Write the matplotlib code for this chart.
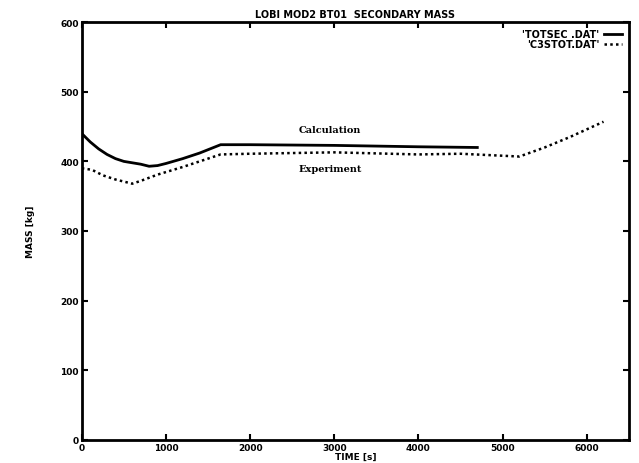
import matplotlib
matplotlib.use("Agg")
import matplotlib.pyplot as plt

# Secondary side mass, calculation vs experiment
calc_t = [0, 100, 200, 300, 400, 500, 600, 700, 800, 900, 1000, 1200, 1400, 1650, 2000, 3000, 4000, 4700]
calc_m = [440, 428, 418, 410, 404, 400, 398, 396, 393, 394, 397, 404, 412, 424, 424, 423, 421, 420]

exp_t = [0, 120, 250, 400, 600, 700, 900, 1200, 1400, 1650, 2000, 3000, 4000, 4500, 5200, 5500, 5800, 6200]
exp_m = [390, 388, 380, 374, 368, 372, 381, 392, 400, 410, 411, 413, 410, 411, 407, 420, 435, 457]

x_ticks = [0, 1000, 2000, 3000, 4000, 5000, 6000]
y_ticks = [0, 100, 200, 300, 400, 500, 600]

fig = plt.figure(figsize=(6.39, 4.64), dpi=100)
ax = fig.add_axes([0.128, 0.05, 0.856, 0.90])

ax.plot(calc_t, calc_m, color="black", lw=2.0, label="'TOTSEC .DAT'")
ax.plot(exp_t, exp_m, color="black", lw=1.8, linestyle=(0, (1, 1.3)), label="'C3STOT.DAT'")

ax.set_xlim(0, 6500)
ax.set_ylim(0, 600)
ax.set_xticks(x_ticks)
ax.set_yticks(y_ticks)
ax.tick_params(direction="in", length=4, width=1.5, top=True, right=True,
               labelsize=6.5, pad=2)
for lab in ax.get_xticklabels() + ax.get_yticklabels():
    lab.set_fontweight("bold")
for s in ax.spines.values():
    s.set_linewidth(2)

ax.set_title("LOBI MOD2 BT01  SECONDARY MASS", fontsize=7, fontweight="bold", pad=4)
ax.set_xlabel("TIME [s]", fontsize=6.5, fontweight="bold", labelpad=0)
ax.set_ylabel("MASS [kg]", fontsize=6.5, fontweight="bold", labelpad=18)

ax.text(2950, 442, "Calculation", fontsize=7, fontweight="bold", family="serif", ha="center")
ax.text(2950, 386, "Experiment", fontsize=7, fontweight="bold", family="serif", ha="center")

ax.legend(loc="upper right", frameon=False, prop={"weight": "bold", "size": 7},
          handlelength=1.8, markerfirst=False, labelspacing=0.05,
          borderaxespad=0.3, handletextpad=0.5)

fig.savefig("out.png", dpi=100, facecolor="white")
